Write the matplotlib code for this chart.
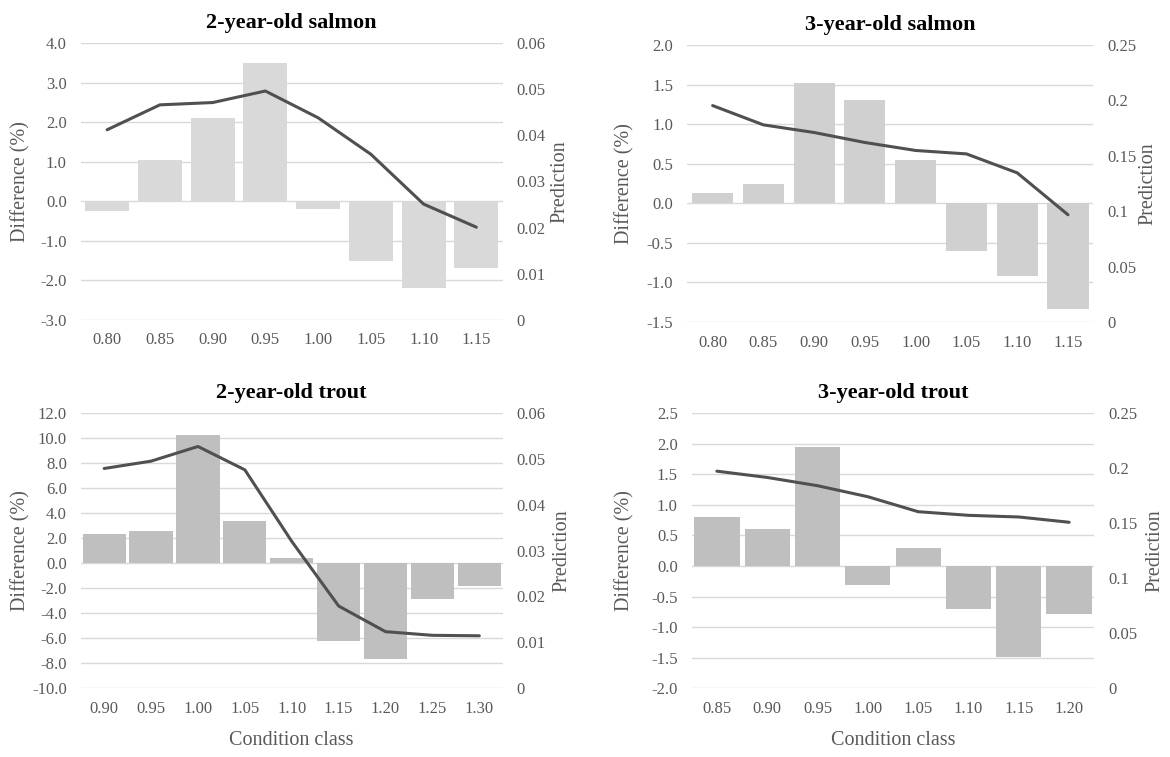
import matplotlib
matplotlib.use("Agg")
import matplotlib.pyplot as plt
import numpy as np

plt.rcParams['font.family'] = ['Liberation Serif', 'DejaVu Serif']

# ---------------- data ----------------
salmon2_classes = ["0.80", "0.85", "0.90", "0.95", "1.00", "1.05", "1.10", "1.15"]
salmon2_diff = [-0.25, 1.05, 2.1, 3.5, -0.2, -1.5, -2.2, -1.68]
salmon2_pred = [0.0412, 0.0466, 0.0471, 0.0496, 0.0438, 0.0359, 0.0251, 0.0201]

salmon3_classes = ["0.80", "0.85", "0.90", "0.95", "1.00", "1.05", "1.10", "1.15"]
salmon3_diff = [0.13, 0.24, 1.52, 1.3, 0.55, -0.6, -0.92, -1.33]
salmon3_pred = [0.1953, 0.1779, 0.171, 0.162, 0.1548, 0.1517, 0.1346, 0.0968]

trout2_classes = ["0.90", "0.95", "1.00", "1.05", "1.10", "1.15", "1.20", "1.25", "1.30"]
trout2_diff = [2.31, 2.55, 10.24, 3.4, 0.41, -6.23, -7.65, -2.87, -1.83]
trout2_pred = [0.0479, 0.0495, 0.0527, 0.0476, 0.032, 0.0179, 0.0123, 0.0115, 0.0114]

trout3_classes = ["0.85", "0.90", "0.95", "1.00", "1.05", "1.10", "1.15", "1.20"]
trout3_diff = [0.806, 0.6, 1.94, -0.31, 0.3, -0.71, -1.49, -0.79]
trout3_pred = [0.1972, 0.1915, 0.184, 0.174, 0.1604, 0.1571, 0.1556, 0.1508]

titles = ["2-year-old salmon", "3-year-old salmon", "2-year-old trout", "3-year-old trout"]

left_ticks_s2 = [4.0, 3.0, 2.0, 1.0, 0.0, -1.0, -2.0, -3.0]
left_ticks_s3 = [2.0, 1.5, 1.0, 0.5, 0.0, -0.5, -1.0, -1.5]
left_ticks_t2 = [12.0, 10.0, 8.0, 6.0, 4.0, 2.0, 0.0, -2.0, -4.0, -6.0, -8.0, -10.0]
left_ticks_t3 = [2.5, 2.0, 1.5, 1.0, 0.5, 0.0, -0.5, -1.0, -1.5, -2.0]

right_ticks_006 = [0.0, 0.01, 0.02, 0.03, 0.04, 0.05, 0.06]
right_labels_006 = ["0", "0.01", "0.02", "0.03", "0.04", "0.05", "0.06"]
right_ticks_025 = [0.0, 0.05, 0.1, 0.15, 0.2, 0.25]
right_labels_025 = ["0", "0.05", "0.1", "0.15", "0.2", "0.25"]

# ---------------- style ----------------
TXT = "#595959"
GRID = "#d9d9d9"
LINE = "#505050"

fig = plt.figure(figsize=(11.7, 7.57), dpi=100)

panels = [
    dict(rect=[0.069, 0.5773, 0.3607, 0.3659], cats=salmon2_classes, diff=salmon2_diff,
         pred=salmon2_pred, lt=left_ticks_s2, rt=right_ticks_006, rl=right_labels_006,
         color="#d9d9d9", width=0.83, title=titles[0], ylc=-0.142, ply=1.136, xlab=False),
    dict(rect=[0.5874, 0.5746, 0.3471, 0.3660], cats=salmon3_classes, diff=salmon3_diff,
         pred=salmon3_pred, lt=left_ticks_s3, rt=right_ticks_025, rl=right_labels_025,
         color="#d0d0d0", width=0.81, title=titles[1], ylc=-0.153, ply=1.135, xlab=False),
    dict(rect=[0.069, 0.0911, 0.3607, 0.3633], cats=trout2_classes, diff=trout2_diff,
         pred=trout2_pred, lt=left_ticks_t2, rt=right_ticks_006, rl=right_labels_006,
         color="#bfbfbf", width=0.92, title=titles[2], ylc=-0.142, ply=1.14, xlab=True),
    dict(rect=[0.5912, 0.0907, 0.3441, 0.3637], cats=trout3_classes, diff=trout3_diff,
         pred=trout3_pred, lt=left_ticks_t3, rt=right_ticks_025, rl=right_labels_025,
         color="#bfbfbf", width=0.90, title=titles[3], ylc=-0.166, ply=1.151, xlab=True),
]

for p in panels:
    ax = fig.add_axes(p["rect"])
    x = np.arange(len(p["cats"]))
    ax.bar(x, p["diff"], width=p["width"], color=p["color"], zorder=2)
    ax.set_xlim(-0.5, len(p["cats"]) - 0.5)
    lt = p["lt"]
    ax.set_ylim(min(lt), max(lt))
    ax.set_yticks(lt)
    ax.set_yticklabels([f"{v:.1f}".replace("-0.0", "0.0") for v in lt])
    ax.set_xticks(x)
    ax.set_xticklabels(p["cats"])
    ax.set_axisbelow(True)
    ax.yaxis.grid(True, color=GRID, linewidth=1.0, zorder=0)
    for s in ax.spines.values():
        s.set_visible(False)
    ax.tick_params(axis="both", length=0, labelsize=12, labelcolor=TXT)
    ax.tick_params(axis="y", pad=10)
    ax.tick_params(axis="x", pad=9)
    ax.set_ylabel("Difference (%)", fontsize=14.5, color=TXT)
    ax.yaxis.set_label_coords(p["ylc"], 0.5)
    ax.yaxis.label.set_va("center")
    ax.set_title(p["title"], fontsize=16, fontweight="bold", color="black", pad=11)
    if p["xlab"]:
        ax.set_xlabel("Condition class", fontsize=14.5, color=TXT)
        ax.xaxis.set_label_coords(0.5, -0.19)
        ax.xaxis.label.set_va("center")

    ax2 = ax.twinx()
    ax2.plot(x, p["pred"], color=LINE, linewidth=2.2, solid_capstyle="round", zorder=3)
    ax2.set_ylim(min(p["rt"]), max(p["rt"]))
    ax2.set_yticks(p["rt"])
    ax2.set_yticklabels(p["rl"])
    for s in ax2.spines.values():
        s.set_visible(False)
    ax2.tick_params(axis="y", length=0, labelsize=12, labelcolor=TXT, pad=10)
    ax2.set_ylabel("Prediction", fontsize=14.5, color=TXT)
    ax2.yaxis.set_label_coords(p["ply"], 0.5)
    ax2.yaxis.label.set_va("center")

fig.savefig("out.png", dpi=100)
